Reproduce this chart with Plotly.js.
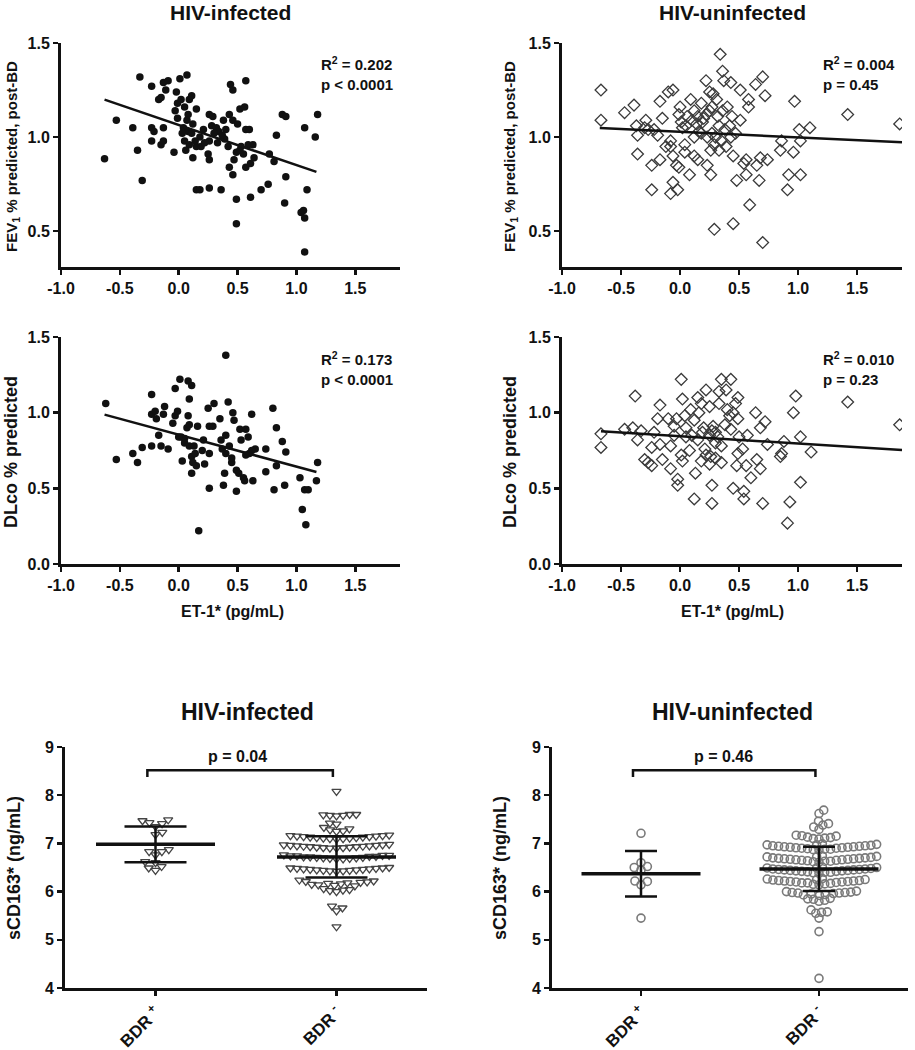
<!DOCTYPE html>
<html>
<head>
<meta charset="utf-8">
<script src="https://cdn.plot.ly/plotly-3.0.1.min.js"></script>
<style>html,body{margin:0;padding:0;background:#fff;}#chart{width:915px;height:1050px;}</style>
</head>
<body>
<div id="chart"></div>
<script>
// ---------- DATA ----------
const panelTitles = ["HIV-infected", "HIV-uninfected"];
const etTickVals = [-1.0, -0.5, 0.0, 0.5, 1.0, 1.5];
const etTickText = ["-1.0", "-0.5", "0.0", "0.5", "1.0", "1.5"];
const pctTickVals = [0.0, 0.5, 1.0, 1.5];
const pctTickText = ["0.0", "0.5", "1.0", "1.5"];
const cdTickVals = [4, 5, 6, 7, 8, 9];
const groupLabels = ["BDR <sup>+</sup>", "BDR <sup>-</sup>"];

// FEV1 % predicted post-BD vs ET-1, HIV-infected
const fevInfX = [-0.63,-0.53,-0.39,-0.33,-0.35,-0.31,-0.23,-0.23,-0.21,-0.23,
  -0.17,-0.15,-0.13,-0.11,-0.09,-0.13,-0.15,-0.13,-0.04,-0.02,
  0.01,0.07,-0.03,-0.01,0.02,0.05,0.09,0.11,0.15,-0.01,
  0.07,0.04,0.08,0.11,0.05,0.09,0.12,0.15,0.19,0.21,
  0.18,0.15,0.18,0.26,0.29,0.28,0.25,0.26,0.26,0.26,
  0.36,0.32,0.34,0.38,0.40,0.39,0.43,0.44,0.46,0.46,
  0.50,0.42,0.43,0.46,0.47,0.49,0.49,0.49,0.52,0.56,
  0.57,0.53,0.55,0.57,0.60,0.59,0.57,0.61,0.63,0.61,
  0.64,0.70,0.76,0.77,0.81,0.83,0.88,0.91,0.91,0.90,
  1.07,1.16,1.18,1.09,1.04,1.06,1.07,1.07,
  0.08,0.12,0.03,0.14,0.22,0.33,0.37,0.52,0.06,0.30];
const fevInfY = [0.885,1.09,1.05,1.32,0.93,0.77,1.27,1.05,1.03,0.98,
  1.20,1.21,1.29,1.25,1.30,1.05,0.96,0.98,0.92,1.24,
  1.31,1.33,1.14,1.18,1.20,1.16,1.20,1.22,1.15,1.10,
  1.09,1.05,1.03,1.02,0.98,0.96,0.89,0.95,0.95,1.04,
  1.00,0.72,0.72,1.12,1.11,1.06,0.91,0.88,0.98,0.73,
  0.72,1.05,1.03,1.09,1.04,0.99,1.12,1.28,1.25,1.09,
  1.07,0.95,0.84,0.80,0.88,0.92,0.67,0.54,1.15,1.16,
  1.30,0.95,0.91,1.04,1.04,0.96,0.84,0.86,0.96,0.68,
  0.89,0.72,0.75,0.91,0.87,1.01,1.12,1.11,0.79,0.65,
  1.05,1.00,1.12,0.72,0.60,0.61,0.57,0.39,
  1.12,1.07,1.02,0.98,0.97,0.97,1.01,0.93,0.93,1.02];
const fevInfFitX = [-0.63, 1.17];
const fevInfFitY = [1.199, 0.815];

// FEV1, HIV-uninfected
const fevUninfX = [-0.67,-0.67,-0.47,-0.39,-0.37,-0.36,-0.36,-0.29,-0.27,-0.24,
  -0.24,-0.22,-0.19,-0.17,-0.17,-0.15,-0.10,-0.06,-0.08,-0.08,
  -0.06,-0.06,-0.08,-0.02,-0.03,-0.01,0.00,-0.01,0.01,0.02,
  0.04,0.04,0.06,0.09,0.08,0.12,0.12,0.15,0.15,0.18,
  0.19,0.18,0.22,0.25,0.25,0.23,0.23,0.26,0.28,0.29,
  0.29,0.32,0.33,0.34,0.36,0.37,0.39,0.40,0.43,0.43,
  0.44,0.45,0.45,0.48,0.51,0.51,0.54,0.56,0.56,0.58,
  0.58,0.59,0.64,0.65,0.67,0.68,0.70,0.70,0.72,0.74,
  0.85,0.86,0.91,0.92,0.96,0.97,1.01,1.02,1.02,1.10,
  1.42,1.86,
  0.05,0.10,0.14,0.20,0.27,0.30,0.35,0.38,0.42,0.47,
  0.33,0.26,0.16,0.12,0.22,0.31,0.27,0.36,-0.30,-0.12];
const fevUninfY = [1.25,1.09,1.13,1.17,1.06,1.01,0.91,1.09,1.04,0.85,
  0.72,1.04,1.01,1.19,0.88,1.10,1.24,1.25,0.98,0.95,
  0.90,0.76,0.70,0.72,0.85,0.84,1.16,1.12,1.08,1.05,
  0.96,0.92,1.11,1.20,0.80,1.14,0.90,0.88,1.11,1.18,
  1.08,1.02,1.30,1.24,1.14,1.00,0.85,0.80,1.23,0.96,
  0.51,1.11,1.06,1.44,1.35,1.30,0.95,1.16,1.29,1.00,
  1.11,0.90,0.54,0.77,1.25,1.09,0.86,0.88,0.80,1.20,
  1.16,0.64,1.28,0.85,0.77,0.89,1.32,0.44,1.22,0.88,
  0.93,0.98,0.72,0.80,0.92,1.19,1.04,0.98,0.80,1.05,
  1.12,1.07,
  1.06,1.09,1.07,1.10,1.02,1.00,0.98,1.04,1.06,1.02,
  0.93,0.93,1.03,1.00,1.12,1.20,1.16,1.14,1.05,0.95];
const fevUninfFitX = [-0.68, 1.88];
const fevUninfFitY = [1.048, 0.973];

// DLco % predicted, HIV-infected
const dlcoInfX = [-0.62,-0.53,-0.39,-0.35,-0.31,-0.23,-0.23,-0.23,-0.20,-0.19,
  -0.17,-0.15,-0.13,-0.12,-0.09,-0.03,-0.03,-0.01,0.01,0.02,
  0.03,0.05,0.07,0.08,0.11,0.09,0.08,0.09,0.09,0.11,
  0.11,0.12,0.14,0.16,0.17,0.21,0.22,0.25,0.26,0.26,
  0.26,0.29,0.30,0.35,0.36,0.38,0.39,0.40,0.40,0.42,
  0.43,0.40,0.45,0.46,0.47,0.49,0.49,0.51,0.52,0.53,
  0.55,0.56,0.57,0.59,0.60,0.62,0.63,0.65,0.74,0.74,
  0.80,0.81,0.83,0.83,0.88,0.91,0.90,1.03,1.05,1.07,
  1.08,1.10,1.17,1.18,
  0.05,0.00,0.13,0.37,0.45,0.57,0.62,-0.05,0.15,0.20];
const dlcoInfY = [1.06,0.69,0.73,0.67,0.77,1.12,0.99,0.78,1.01,0.96,
  0.85,0.78,0.99,1.04,0.76,0.98,1.16,1.01,1.22,0.84,
  0.68,0.83,0.90,1.21,1.18,1.09,0.98,0.92,0.78,0.71,
  0.60,0.67,0.73,0.91,0.22,0.82,0.66,1.03,0.91,0.50,
  0.73,0.91,1.06,0.96,0.82,0.52,0.60,1.38,0.85,1.07,
  0.78,0.73,0.67,1.00,0.95,0.48,0.62,0.60,0.89,0.82,
  0.57,0.55,0.89,0.84,0.73,0.99,0.55,0.76,0.76,0.61,
  1.03,0.49,0.90,0.65,0.81,0.74,0.52,0.57,0.36,0.49,
  0.26,0.49,0.55,0.67,
  0.80,0.84,0.78,0.76,0.70,0.72,0.75,0.93,0.65,0.75];
const dlcoInfFitX = [-0.63, 1.17];
const dlcoInfFitY = [0.987, 0.608];

// DLco % predicted, HIV-uninfected
const dlcoUninfX = [-0.67,-0.67,-0.47,-0.38,-0.40,-0.36,-0.33,-0.30,-0.27,-0.24,
  -0.24,-0.22,-0.17,-0.19,-0.17,-0.15,-0.10,-0.08,-0.08,-0.05,
  -0.03,-0.02,-0.02,0.01,0.02,0.04,0.01,0.02,0.05,0.09,
  0.12,0.13,0.15,0.16,0.18,0.19,0.21,0.22,0.25,0.25,
  0.26,0.27,0.27,0.28,0.30,0.33,0.33,0.35,0.35,0.39,
  0.40,0.43,0.43,0.45,0.47,0.49,0.49,0.49,0.48,0.53,
  0.54,0.54,0.56,0.57,0.60,0.64,0.65,0.68,0.68,0.70,
  0.72,0.74,0.85,0.86,0.88,0.91,0.93,0.96,0.98,1.02,
  1.02,1.11,1.42,1.86,
  0.10,0.15,0.20,0.25,0.27,0.30,0.32,0.35,0.05,-0.05,
  0.12,0.38,0.42,0.45,0.50,0.22,0.08,0.18,0.30];
const dlcoUninfY = [0.86,0.77,0.89,1.11,0.90,0.82,0.88,0.69,0.67,0.65,
  0.77,0.87,1.05,0.96,0.79,0.69,0.96,0.63,0.78,0.91,
  0.96,0.56,0.52,1.22,1.09,0.98,0.72,0.68,0.84,1.02,
  0.43,0.60,1.10,1.00,1.06,0.87,0.76,1.15,1.04,0.66,
  0.71,0.52,0.40,0.91,0.87,1.06,1.14,1.22,0.67,1.15,
  1.02,1.22,0.89,0.50,1.06,1.10,0.96,0.73,0.65,0.76,
  0.48,0.43,0.65,0.85,0.57,1.00,0.69,0.63,0.90,0.40,
  0.94,0.79,0.71,0.73,0.81,0.27,0.41,1.00,1.11,0.84,
  0.54,0.74,1.07,0.92,
  0.85,0.82,0.90,0.85,0.88,0.80,0.84,0.78,0.90,0.85,
  0.95,0.92,0.98,1.00,0.84,0.72,0.75,0.68,0.70];
const dlcoUninfFitX = [-0.67, 1.88];
const dlcoUninfFitY = [0.877, 0.753];

// sCD163 (ng/mL), HIV-infected
const cdInfPos = [7.49,7.47,7.43,7.41,7.35,7.23,7.18,6.87,6.83,6.83,6.76,6.62,6.60,6.52,6.49,6.44];
const cdInfNeg = [8.08,
  7.60,7.59,7.58,7.58,7.57,7.60,
  7.42,7.40,
  7.33,7.30,7.28,7.26,7.25,
  7.17,7.16,7.16,7.15,7.15,7.14,7.14,7.13,7.13,7.12,7.12,7.11,7.11,7.10,7.10,7.09,
  6.98,6.97,6.97,6.96,6.96,6.95,6.95,6.94,6.94,6.93,6.93,6.92,6.92,6.91,6.91,6.90,6.90,
  6.76,6.75,6.75,6.74,6.74,6.73,6.73,6.72,6.72,6.71,6.71,6.70,6.70,6.69,6.69,6.68,6.68,
  6.50,6.49,6.49,6.48,6.48,6.47,6.47,6.46,6.46,6.45,6.45,6.44,6.44,6.43,6.43,6.42,
  6.24,6.22,6.21,6.20,6.19,6.18,6.17,6.16,6.15,6.14,6.13,6.12,
  6.06,6.04,6.03,6.02,6.00,
  5.70,5.66,5.60,
  5.27];
const cdInfMean = [6.98, 6.72];
const cdInfSD = [0.37, 0.43];

// sCD163 (ng/mL), HIV-uninfected
const cdUninfPos = [7.21,6.60,6.52,6.50,6.45,6.22,6.21,6.14,5.45];
const cdUninfNeg = [7.69,7.62,
  7.46,7.41,7.38,7.34,7.29,
  7.17,7.16,7.15,7.13,7.12,7.11,7.10,7.09,
  6.99,6.98,6.97,6.97,6.96,6.95,6.95,6.94,6.94,6.93,6.93,6.92,6.92,6.91,6.91,6.90,6.90,6.89,6.88,6.88,6.87,6.86,
  6.74,6.73,6.72,6.72,6.71,6.70,6.70,6.69,6.69,6.68,6.68,6.67,6.67,6.66,6.66,6.65,6.65,6.64,6.63,6.63,6.62,6.61,
  6.51,6.50,6.49,6.49,6.48,6.47,6.47,6.46,6.46,6.45,6.45,6.44,6.44,6.43,6.43,6.42,6.42,6.41,6.40,6.40,6.39,6.38,
  6.27,6.26,6.25,6.25,6.24,6.23,6.23,6.22,6.22,6.21,6.21,6.20,6.20,6.19,6.18,6.18,6.17,6.16,6.15,6.14,
  6.01,6.00,5.99,5.98,5.98,5.97,5.97,5.96,5.95,5.94,5.93,5.92,
  5.86,5.85,5.84,5.82,5.80,
  5.62,5.58,5.57,5.55,
  5.45,
  5.17,
  4.20];
const cdUninfMean = [6.37, 6.47];
const cdUninfSD = [0.47, 0.46];

// ---------- LAYOUT HELPERS ----------
const W = 915, H = 1050;
const FONT = 'Liberation Sans, Arial, Helvetica, sans-serif';
const INK = '#111';
const fx = px => px / W;
const fy = py => 1 - py / H;

function ax(extra) {
  return Object.assign({
    showline: true, linecolor: INK, linewidth: 3,
    ticks: 'outside', ticklen: 5, tickwidth: 2.5, tickcolor: INK,
    showgrid: false, zeroline: false, fixedrange: true,
    tickfont: {family: FONT, size: 16, color: INK, weight: 'bold'}
  }, extra);
}

// beeswarm offsets (in category units), deterministic layout
function swarm(vals, pxPerX, pxPerY, d) {
  const idx = vals.map((v, i) => i).sort((a, b) => vals[a] - vals[b]);
  const placed = [];
  const out = new Array(vals.length);
  let flip = 1;
  for (const i of idx) {
    const y = vals[i] * pxPerY;
    const near = placed.filter(p => Math.abs(p.y - y) < d);
    const cands = [0];
    near.forEach(p => {
      const dx = Math.sqrt(d * d - (p.y - y) * (p.y - y));
      cands.push(p.x + dx, p.x - dx);
    });
    cands.sort((a, b) => Math.abs(a) - Math.abs(b) || (flip * (b - a)));
    let x = 0;
    for (const c of cands) {
      if (near.every(p => (p.x - c) * (p.x - c) + (p.y - y) * (p.y - y) >= d * d - 1e-6)) { x = c; break; }
    }
    flip = -flip;
    placed.push({x, y});
    out[i] = x / pxPerX;
  }
  return out;
}

const traces = [];
// scatter panels
traces.push({x: fevInfX, y: fevInfY, xaxis: 'x', yaxis: 'y', mode: 'markers', type: 'scatter',
  marker: {symbol: 'circle', size: 7.5, color: INK}});
traces.push({x: fevInfFitX, y: fevInfFitY, xaxis: 'x', yaxis: 'y', mode: 'lines', type: 'scatter',
  line: {color: INK, width: 2.5}});
traces.push({x: fevUninfX, y: fevUninfY, xaxis: 'x2', yaxis: 'y2', mode: 'markers', type: 'scatter',
  marker: {symbol: 'diamond-open', size: 9, color: '#3a3a3a', line: {width: 1.3}}});
traces.push({x: fevUninfFitX, y: fevUninfFitY, xaxis: 'x2', yaxis: 'y2', mode: 'lines', type: 'scatter',
  line: {color: INK, width: 2.5}});
traces.push({x: dlcoInfX, y: dlcoInfY, xaxis: 'x3', yaxis: 'y3', mode: 'markers', type: 'scatter',
  marker: {symbol: 'circle', size: 7.5, color: INK}});
traces.push({x: dlcoInfFitX, y: dlcoInfFitY, xaxis: 'x3', yaxis: 'y3', mode: 'lines', type: 'scatter',
  line: {color: INK, width: 2.5}});
traces.push({x: dlcoUninfX, y: dlcoUninfY, xaxis: 'x4', yaxis: 'y4', mode: 'markers', type: 'scatter',
  marker: {symbol: 'diamond-open', size: 9, color: '#3a3a3a', line: {width: 1.3}}});
traces.push({x: dlcoUninfFitX, y: dlcoUninfFitY, xaxis: 'x4', yaxis: 'y4', mode: 'lines', type: 'scatter',
  line: {color: INK, width: 2.5}});

// swarm panels
const p5 = {pxX: 181, pxY: 48.2}, p6 = {pxX: 178, pxY: 48.2};
function addSwarm(vals, g, axx, axy, P, d, sym, col, lw) {
  const off = swarm(vals, P.pxX, P.pxY, d);
  traces.push({x: off.map(o => g + o), y: vals, xaxis: axx, yaxis: axy, mode: 'markers', type: 'scatter',
    marker: {symbol: sym, size: 8, color: col, line: {width: lw, color: col}}});
}
addSwarm(cdInfPos, 0, 'x5', 'y5', p5, 7.2, 'triangle-down-open', '#444', 1.3);
addSwarm(cdInfNeg, 1, 'x5', 'y5', p5, 6.6, 'triangle-down-open', '#444', 1.3);
addSwarm(cdUninfPos, 0, 'x6', 'y6', p6, 7.2, 'circle-open', '#7a7a7a', 1.6);
addSwarm(cdUninfNeg, 1, 'x6', 'y6', p6, 5.8, 'circle-open', '#7a7a7a', 1.6);
traces.push({x: [0, 1], y: cdInfMean, xaxis: 'x5', yaxis: 'y5', mode: 'markers', type: 'scatter',
  marker: {symbol: 'line-ew-open', size: 85, color: INK, line: {width: 3.5, color: INK}},
  error_y: {type: 'data', array: cdInfSD, visible: true, color: INK, thickness: 2.5, width: 31}});
traces.push({x: [0, 1], y: cdUninfMean, xaxis: 'x6', yaxis: 'y6', mode: 'markers', type: 'scatter',
  marker: {symbol: 'line-ew-open', size: 85, color: INK, line: {width: 3.5, color: INK}},
  error_y: {type: 'data', array: cdUninfSD, visible: true, color: INK, thickness: 2.5, width: 16}});

const leftX = [fx(61), fx(400)], rightX = [fx(562), fx(902)];
const etTicks = {tickmode: 'array', tickvals: etTickVals, ticktext: etTickText, range: [-1, 1.88]};
const pctTicks = {tickmode: 'array', tickvals: pctTickVals, ticktext: pctTickText};
const catTicks = {tickmode: 'array', tickvals: [0, 1], ticktext: groupLabels, range: [-0.5, 1.5], tickangle: -45,
  tickfont: {family: FONT, size: 17, color: INK, weight: 'bold'}};
const cdTicks = {tickmode: 'array', tickvals: cdTickVals, ticktext: cdTickVals.map(String), range: [4, 9]};

const layout = {
  width: W, height: H, margin: {l: 0, r: 0, t: 0, b: 0},
  paper_bgcolor: '#fff', plot_bgcolor: '#fff', showlegend: false,
  xaxis: ax(Object.assign({domain: leftX, anchor: 'y'}, etTicks)),
  yaxis: ax(Object.assign({domain: [fy(267), fy(43)], anchor: 'x', range: [0.31, 1.5]}, pctTicks)),
  xaxis2: ax(Object.assign({domain: rightX, anchor: 'y2'}, etTicks)),
  yaxis2: ax(Object.assign({domain: [fy(267), fy(43)], anchor: 'x2', range: [0.31, 1.5]}, pctTicks)),
  xaxis3: ax(Object.assign({domain: leftX, anchor: 'y3'}, etTicks)),
  yaxis3: ax(Object.assign({domain: [fy(564), fy(337)], anchor: 'x3', range: [0, 1.5]}, pctTicks)),
  xaxis4: ax(Object.assign({domain: rightX, anchor: 'y4'}, etTicks)),
  yaxis4: ax(Object.assign({domain: [fy(564), fy(337)], anchor: 'x4', range: [0, 1.5]}, pctTicks)),
  xaxis5: ax(Object.assign({domain: [fx(65), fx(427)], anchor: 'y5'}, catTicks)),
  yaxis5: ax(Object.assign({domain: [fy(988), fy(747)], anchor: 'x5'}, cdTicks)),
  xaxis6: ax(Object.assign({domain: [fx(552), fx(908)], anchor: 'y6'}, catTicks)),
  yaxis6: ax(Object.assign({domain: [fy(988), fy(747)], anchor: 'x6'}, cdTicks)),
  annotations: [],
  shapes: []
};

function note(text, px, py, size, opts) {
  layout.annotations.push(Object.assign({
    text: text, xref: 'paper', yref: 'paper', x: fx(px), y: fy(py),
    xanchor: 'center', yanchor: 'middle', showarrow: false,
    font: {family: FONT, size: size, color: INK, weight: 'bold'}
  }, opts || {}));
}
// panel titles
note(panelTitles[0], 230, 12, 21);
note(panelTitles[1], 732, 12, 21);
note(panelTitles[0], 247, 712, 23);
note(panelTitles[1], 732, 712, 23);
// y titles
note('FEV<sub>1</sub> % predicted, post-BD', 13, 157, 15, {textangle: -90});
note('FEV<sub>1</sub> % predicted, post-BD', 511, 157, 15, {textangle: -90});
note('DLco % predicted', 11, 452, 18, {textangle: -90});
note('DLco % predicted', 510, 452, 18, {textangle: -90});
note('sCD163* (ng/mL)', 14, 868, 18, {textangle: -90});
note('sCD163* (ng/mL)', 500, 868, 18, {textangle: -90});
// x titles
note('ET-1* (pg/mL)', 232, 611, 16);
note('ET-1* (pg/mL)', 732, 611, 16);
// statistics
const statOpts = {xanchor: 'left', yanchor: 'top', align: 'left'};
note('R<sup>2</sup> = 0.202<br>p &lt; 0.0001', 319, 52, 15, statOpts);
note('R<sup>2</sup> = 0.004<br>p = 0.45', 821, 52, 15, statOpts);
note('R<sup>2</sup> = 0.173<br>p &lt; 0.0001', 319, 347, 15, statOpts);
note('R<sup>2</sup> = 0.010<br>p = 0.23', 821, 347, 15, statOpts);
note('p = 0.04', 237, 756, 16);
note('p = 0.46', 723, 756, 16);
// comparison brackets
function bracket(xr, yr, x0, x1) {
  layout.shapes.push({type: 'path', xref: xr, yref: yr,
    path: `M ${x0},8.38 L ${x0},8.52 L ${x1},8.52 L ${x1},8.38`,
    line: {color: INK, width: 2.5}});
}
bracket('x5', 'y5', -0.045, 0.98);
bracket('x6', 'y6', -0.045, 0.98);

Plotly.newPlot('chart', traces, layout, {displayModeBar: false, staticPlot: true});
</script>
</body>
</html>
